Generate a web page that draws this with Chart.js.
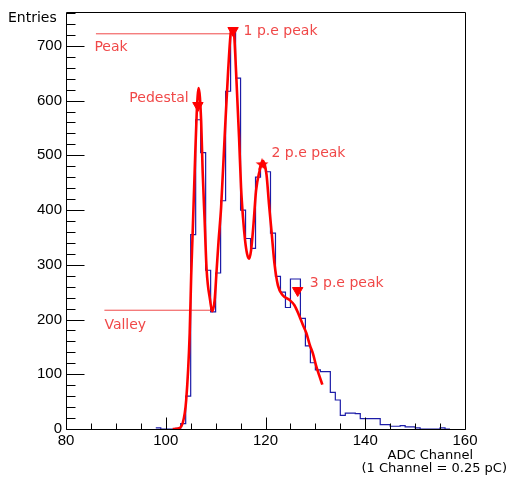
<!DOCTYPE html>
<html>
<head>
<meta charset="utf-8">
<script src="https://cdn.jsdelivr.net/npm/chart.js@4.4.1/dist/chart.umd.min.js"></script>
<style>
  html, body { margin: 0; padding: 0; background: #fff; }
  #wrap { width: 508px; height: 478px; }
</style>
</head>
<body>
<div id="wrap"><canvas id="c" width="508" height="478"></canvas></div>
<script>
// histogram: lower edge of each 1-channel bin and its entries
const channels = [98, 99, 100, 101, 102, 103, 104, 105, 106, 107, 108, 109, 110, 111, 112, 113,
  114, 115, 116, 117, 118, 119, 120, 121, 122, 123, 124, 125, 126, 127, 128, 129, 130, 131,
  132, 133, 134, 135, 136, 137, 138, 139, 140, 141, 142, 143, 144, 145, 146, 147, 148, 149,
  150, 151, 152, 153, 154, 155, 156, 157];
const entries = [2, 0, 0, 0, 1, 10, 60, 355, 565, 505, 290, 214, 285, 417, 617, 725,
  641, 400, 348, 330, 460, 485, 470, 358, 279, 250, 222, 274, 274, 202, 152, 121, 108, 105,
  105, 67, 53, 25, 29, 29, 28, 19, 19, 19, 19, 8, 8, 5, 5, 6, 4, 4,
  2, 0, 0, 0, 0, 2, 0, 0];

// fitted curve
const fitX = [101.4, 102.5, 103.4, 104.1, 104.8, 105.1, 105.4, 105.8, 106.2, 106.6, 107.1,
  107.4, 107.8, 108.2, 108.9, 109.3, 109.8, 110.2, 110.6, 111.1, 111.8, 112.5, 113.1, 113.4,
  113.7, 114.1, 114.7, 115.1, 115.5, 115.9, 116.3, 116.7, 117.1, 117.6, 118.1, 118.8, 119.5,
  120.2, 120.7, 121.2, 121.8, 122.5, 123.5, 124.8, 125.8, 126.8, 127.5, 128.2, 128.9, 129.5,
  130.2, 130.8, 131.4];
const fitY = [0, 1, 11, 53, 175, 280, 360, 471, 575, 623, 562,
  471, 380, 290, 235, 215, 235, 290, 345, 405, 532, 653, 728, 732,
  722, 653, 532, 441, 385, 345, 320, 311, 326, 375, 435, 471, 490,
  465, 411, 362, 302, 262, 244, 236, 226, 206, 190, 175, 153, 138,
  114, 97, 81];

// peak finder markers
const trianglePeaks = [
  { x: 106.45, y: 591 },
  { x: 113.5, y: 728 },
  { x: 126.45, y: 253 }
];
const starPeaks = [{ x: 119.3, y: 484 }];

// reference lines
const peakLineX = [86.0, 113.4];
const peakLineY = [722, 722];
const valleyLineX = [87.7, 109.4];
const valleyLineY = [217, 217];

const xTicks = [80, 100, 120, 140, 160];
const yTicks = [0, 100, 200, 300, 400, 500, 600, 700];

const notes = [
  { text: 'Peak', x: 85.7, y: 697 },
  { text: '1 p.e peak', x: 115.6, y: 726 },
  { text: 'Pedestal', x: 92.7, y: 604 },
  { text: '2 p.e peak', x: 121.2, y: 504 },
  { text: '3 p.e peak', x: 128.85, y: 266 },
  { text: 'Valley', x: 87.7, y: 190 }
];

const pts = (xs, ys) => xs.map((v, i) => ({ x: v, y: ys[i] }));

const star = document.createElement('canvas');
star.width = 14;
star.height = 14;
{
  const s = star.getContext('2d');
  s.fillStyle = '#ff0000';
  s.beginPath();
  for (let i = 0; i < 10; i++) {
    const r = i % 2 === 0 ? 6.8 : 2.8;
    const a = -Math.PI / 2 + i * Math.PI / 5;
    const px = 7 + r * Math.cos(a), py = 7.5 + r * Math.sin(a);
    if (i === 0) s.moveTo(px, py); else s.lineTo(px, py);
  }
  s.closePath();
  s.fill();
}

const noteRed = '#f04848';

const frame = {
  id: 'frame',
  afterDatasetsDraw(chart) {
    const { ctx, chartArea: a, scales: { x, y } } = chart;
    ctx.save();
    ctx.strokeStyle = '#000';
    ctx.lineWidth = 1;
    ctx.beginPath();
    ctx.rect(a.left + 0.5, a.top - 0.5, a.right - a.left, a.bottom - a.top + 1);
    for (let v = 80; v <= 160; v += 5) {
      const px = Math.round(x.getPixelForValue(v)) + 0.5;
      const len = v % 20 === 0 ? 12 : 6;
      ctx.moveTo(px, a.bottom + 0.5);
      ctx.lineTo(px, a.bottom + 0.5 - len);
    }
    for (let v = 0; v <= 760; v += 20) {
      const py = Math.round(y.getPixelForValue(v)) + 0.5;
      const len = v % 100 === 0 ? 18 : 9;
      ctx.moveTo(a.left + 0.5, py);
      ctx.lineTo(a.left + 0.5 + len, py);
    }
    ctx.stroke();

    ctx.fillStyle = noteRed;
    ctx.font = '14px "DejaVu Sans"';
    ctx.textBaseline = 'middle';
    ctx.textAlign = 'left';
    notes.forEach(n => ctx.fillText(n.text, x.getPixelForValue(n.x), y.getPixelForValue(n.y)));

    ctx.fillStyle = '#000';
    ctx.fillText('Entries', 8, 18);
    ctx.font = '13px "DejaVu Sans"';
    ctx.textAlign = 'right';
    ctx.fillText('ADC Channel', 473, 456);
    ctx.fillText('(1 Channel = 0.25 pC)', 507, 469);
    ctx.restore();
  }
};

new Chart(document.getElementById('c'), {
  type: 'line',
  data: {
    datasets: [
      {
        data: trianglePeaks,
        showLine: false,
        pointStyle: 'triangle',
        rotation: 180,
        pointRadius: 6,
        backgroundColor: '#ff0000',
        borderColor: '#ff0000',
        borderWidth: 1
      },
      {
        data: starPeaks,
        showLine: false,
        pointStyle: star,
        pointRadius: 7
      },
      {
        data: pts(fitX, fitY),
        borderColor: '#ff0000',
        borderWidth: 2.6,
        pointRadius: 0,
        cubicInterpolationMode: 'monotone',
        fill: false
      },
      {
        data: pts(peakLineX, peakLineY),
        borderColor: noteRed,
        borderWidth: 1,
        pointRadius: 0
      },
      {
        data: pts(valleyLineX, valleyLineY),
        borderColor: noteRed,
        borderWidth: 1,
        pointRadius: 0
      },
      {
        data: pts(channels, entries),
        stepped: 'before',
        borderColor: '#1c1ca8',
        borderWidth: 1.2,
        pointRadius: 0,
        fill: false
      }
    ]
  },
  options: {
    responsive: false,
    animation: false,
    events: [],
    layout: { padding: { top: 12, right: 43, left: 0, bottom: 0 } },
    plugins: { legend: { display: false }, tooltip: { enabled: false } },
    scales: {
      x: {
        type: 'linear',
        min: 80,
        max: 160,
        afterFit(s) { s.height = 49; },
        afterBuildTicks(s) { s.ticks = xTicks.map(v => ({ value: v })); },
        grid: { drawOnChartArea: false, drawTicks: false },
        border: { display: false },
        ticks: {
          padding: 3,
          maxRotation: 0,
          color: '#000',
          font: { family: '"Liberation Sans"', size: 15 }
        }
      },
      y: {
        min: 0,
        max: 760,
        afterFit(s) { s.width = 66; },
        afterBuildTicks(s) { s.ticks = yTicks.map(v => ({ value: v })); },
        grid: { drawOnChartArea: false, drawTicks: false },
        border: { display: false },
        ticks: {
          padding: 4,
          color: '#000',
          font: { family: '"Liberation Sans"', size: 15 }
        }
      }
    }
  },
  plugins: [frame]
});
</script>
</body>
</html>
